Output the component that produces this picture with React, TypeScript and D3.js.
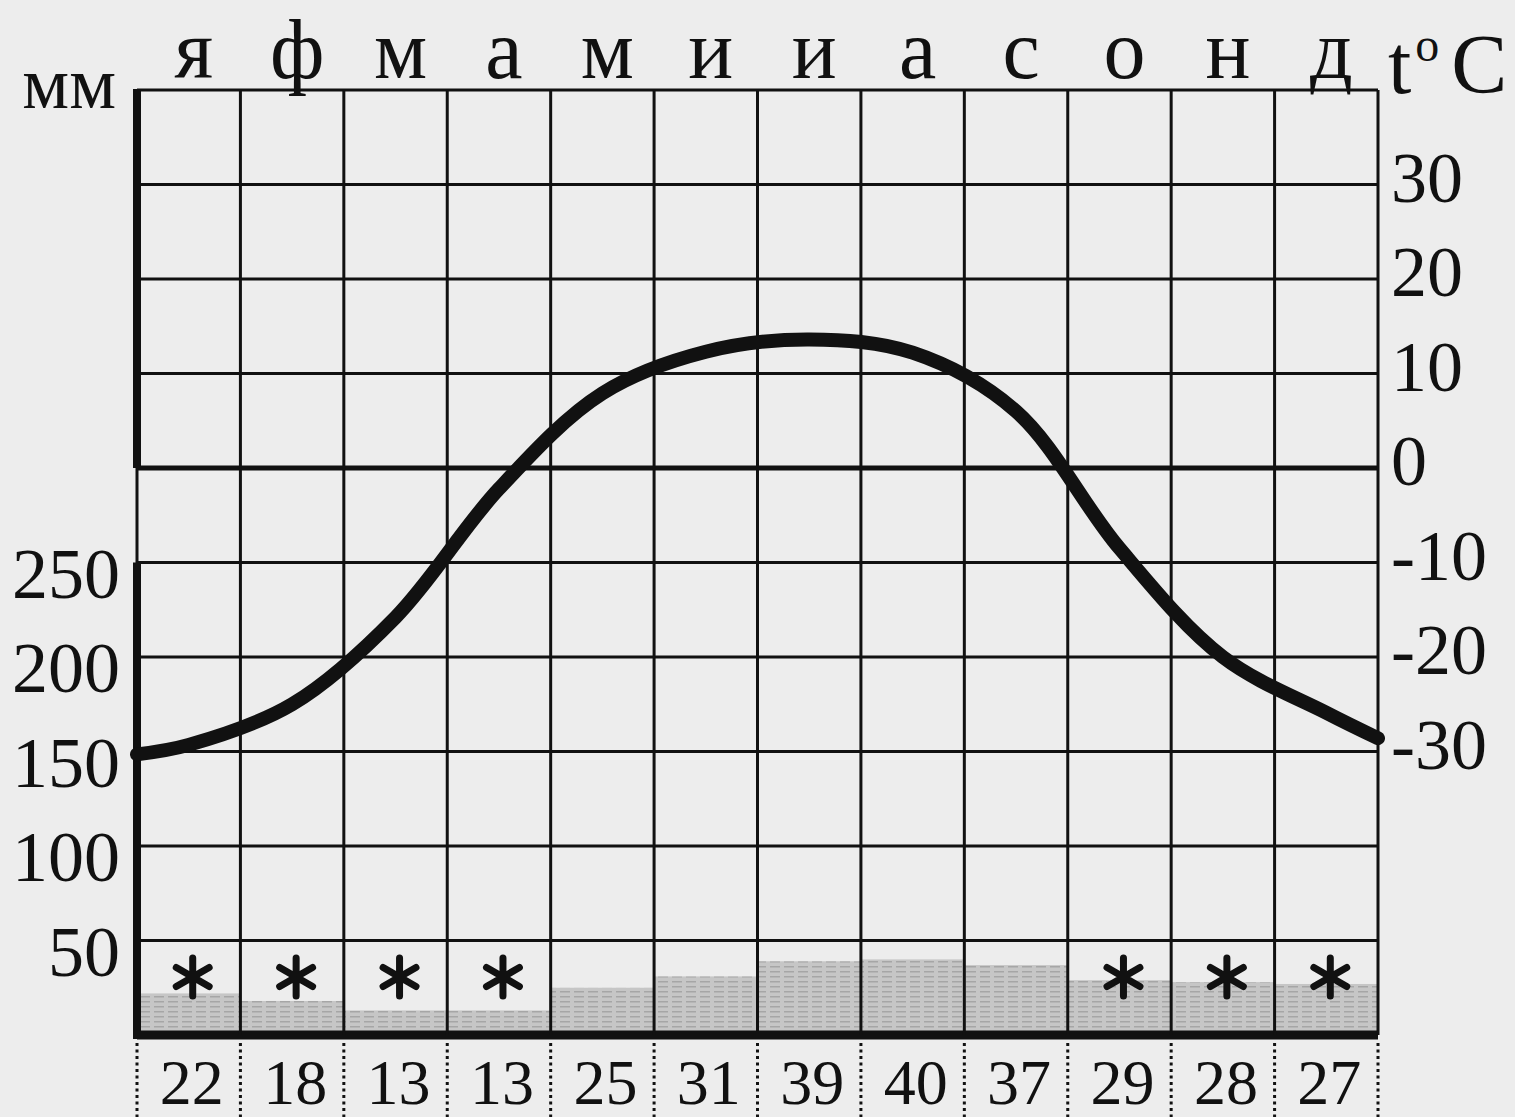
import { useMemo } from "react";
import * as d3 from "d3";

const MONTHS = ["я", "ф", "м", "а", "м", "и", "и", "а", "с", "о", "н", "д"];
const TEMPS = [-29.3, -25, -15.8, -2.2, 7.9, 12.3, 13.6, 12.2, 6, -8.5, -20, -25.9];
// temperature where the curve meets the left and right frame
const YEAR_EDGE_TEMPS = [-30.3, -28.6];
const PRECIP = [22, 18, 13, 13, 25, 31, 39, 40, 37, 29, 28, 27];
const SNOW = [true, true, true, true, false, false, false, false, false, true, true, true];
const TEMP_TICKS = [30, 20, 10, 0, -10, -20, -30];
const PRECIP_TICKS = [50, 100, 150, 200, 250];

const W = 1515;
const H = 1117;
const FONT = "'Liberation Serif', 'DejaVu Serif', serif";
const INK = "#111";

export default function App() {
  const left = 137;
  const right = 1378;
  const top = 90;
  const bottom = 1035;

  const x = d3.scaleBand<number>().domain(d3.range(12)).range([left, right]).padding(0);
  const yT = d3.scaleLinear().domain([-60, 40]).range([bottom, top]);
  const yP = d3.scaleLinear().domain([0, 500]).range([bottom, top]);
  const bw = x.bandwidth();
  const cx = (i: number) => x(i)! + bw / 2;

  const curvePath = useMemo(() => {
    const pts: [number, number][] = [
      [left, YEAR_EDGE_TEMPS[0]],
      ...TEMPS.map((t, i) => [cx(i), t] as [number, number]),
      [right, YEAR_EDGE_TEMPS[1]],
    ];
    return d3
      .line<[number, number]>()
      .x((d) => d[0])
      .y((d) => yT(d[1]))
      .curve(d3.curveCatmullRom.alpha(0.5))(pts);
  }, []);

  const bounds = d3.range(13).map((i) => (i < 12 ? x(i)! : right));
  const hLines = yT.ticks(10);

  const asterisk = (px: number, py: number, r: number) => {
    const p = d3.path();
    for (let k = 0; k < 3; k++) {
      const a = (Math.PI / 3) * k + Math.PI / 2;
      p.moveTo(px + r * Math.cos(a), py + r * Math.sin(a));
      p.lineTo(px - r * Math.cos(a), py - r * Math.sin(a));
    }
    return p.toString();
  };

  return (
    <svg
      width={W}
      height={H}
      style={{ position: "absolute", left: 0, top: 0 }}
      fontFamily={FONT}
    >
      <defs>
        <pattern id="rain" width="14" height="5" patternUnits="userSpaceOnUse">
          <rect width="14" height="5" fill="#c6c6c6" />
          <rect y="1" width="10" height="1.5" fill="#a6a6a6" />
        </pattern>
      </defs>
      <rect width={W} height={H} fill="#ededed" />

      {/* precipitation bars */}
      {PRECIP.map((v, i) => (
        <rect
          key={"p" + i}
          x={x(i)}
          y={yP(v)}
          width={bw}
          height={yP(0) - yP(v)}
          fill="url(#rain)"
        />
      ))}

      {/* grid */}
      {hLines.map((t) => (
        <line
          key={"h" + t}
          x1={left}
          x2={right}
          y1={yT(t)}
          y2={yT(t)}
          stroke={INK}
          strokeWidth={t === 0 ? 5 : t === -60 ? 9 : 3}
        />
      ))}
      {bounds.map((bx, i) => (
        <line key={"v" + i} x1={bx} x2={bx} y1={top} y2={bottom} stroke={INK} strokeWidth={3} />
      ))}
      <line x1={left} x2={left} y1={top - 1} y2={yT(0)} stroke={INK} strokeWidth={8} />
      <line x1={left} x2={left} y1={yP(250)} y2={bottom + 4} stroke={INK} strokeWidth={8} />

      {/* dotted separators under the grid */}
      {bounds.map((bx, i) => (
        <line
          key={"d" + i}
          x1={bx}
          x2={bx}
          y1={bottom + 8}
          y2={H}
          stroke={INK}
          strokeWidth={3}
          strokeDasharray="3 3.5"
        />
      ))}

      {/* snow */}
      {SNOW.map((s, i) =>
        s ? (
          <path
            key={"s" + i}
            d={asterisk(cx(i) + 4, 977, 19)}
            stroke={INK}
            strokeWidth={7}
            strokeLinecap="round"
            fill="none"
          />
        ) : null
      )}

      {/* temperature curve */}
      <path d={curvePath ?? ""} fill="none" stroke={INK} strokeWidth={14} strokeLinecap="round" />

      {/* month letters */}
      {MONTHS.map((m, i) => (
        <text key={"m" + i} x={cx(i) + 5} y={78} fontSize={84} textAnchor="middle" fill={INK}>
          {m}
        </text>
      ))}

      {/* precipitation labels */}
      {PRECIP.map((v, i) => (
        <text key={"n" + i} x={cx(i) + 3} y={1104} fontSize={64} textAnchor="middle" fill={INK}>
          {v}
        </text>
      ))}

      {/* left axis */}
      <text x={116} y={108} fontSize={74} textAnchor="end" fill={INK}>
        мм
      </text>
      {PRECIP_TICKS.map((v) => (
        <text key={"pl" + v} x={120} y={yP(v) + 35} fontSize={72} textAnchor="end" fill={INK}>
          {v}
        </text>
      ))}

      {/* right axis */}
      <text x={1388} y={93} fontSize={84} fill={INK}>
        t
        <tspan fontSize={48} dy={-32} dx={4}>
          o
        </tspan>
        <tspan dy={32} dx={12}>
          C
        </tspan>
      </text>
      {TEMP_TICKS.map((t) => (
        <text key={"tl" + t} x={1391} y={yT(t) + 17} fontSize={72} fill={INK}>
          {t < 0 ? "-" + Math.abs(t) : t}
        </text>
      ))}
    </svg>
  );
}
